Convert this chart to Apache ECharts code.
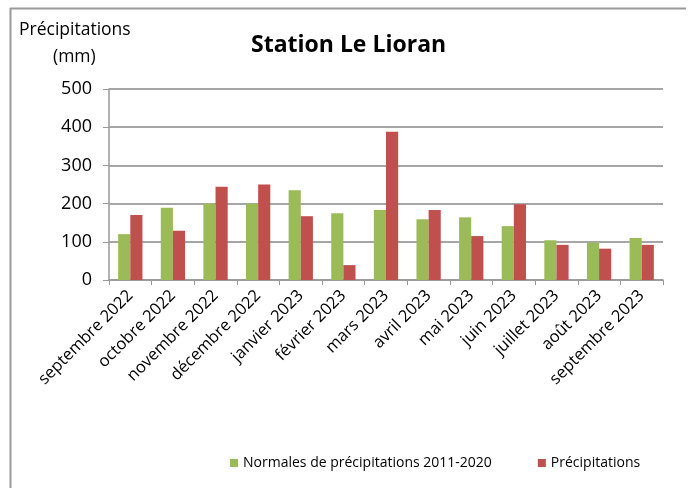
<!DOCTYPE html>
<html><head><meta charset="utf-8">
<script src="https://cdn.jsdelivr.net/npm/echarts@6/dist/echarts.min.js"></script>
<style>html,body{margin:0;padding:0;background:#fff}#c{width:690px;height:488px}</style>
</head><body><div id="c"></div>
<script>
const categories = ['septembre 2022','octobre 2022','novembre 2022','décembre 2022','janvier 2023','février 2023','mars 2023','avril 2023','mai 2023','juin 2023','juillet 2023','août 2023','septembre 2023'];
const normales = [120,189,200,200,235,175,183,159,164,141,104,98,110];
const precipitations = [170,129,244,250,167,39,388,183,115,198,92,82,92];
const yTicks = [0,100,200,300,400,500];
const FONT = '"Open Sans", Lato, sans-serif';
const chart = echarts.init(document.getElementById('c'));
chart.setOption({
  animation:false,
  graphic:[
    {type:'line',shape:{x1:10,y1:8.5,x2:686,y2:8.5},style:{stroke:'#9a9a9a',lineWidth:2}},
    {type:'line',shape:{x1:10.5,y1:8,x2:10.5,y2:488},style:{stroke:'#9a9a9a',lineWidth:2}},
    {type:'text',left:19,top:21,style:{text:'Précipitations',font:'17.5px '+FONT,fill:'#000'}},
    {type:'text',left:53,top:48,style:{text:'(mm)',font:'17.5px '+FONT,fill:'#000'}}
  ],
  title:{text:'Station Le Lioran',left:246,top:29,textStyle:{fontFamily:FONT,fontSize:23,fontWeight:'bold',color:'#000'}},
  legend:{bottom:13,left:225,itemWidth:8,itemHeight:8,itemGap:46,icon:'rect',
    textStyle:{fontFamily:FONT,fontSize:14,color:'#000'},
    data:['Normales de précipitations 2011-2020','Précipitations']},
  grid:{left:109,right:27,top:89,bottom:208},
  xAxis:{type:'category',data:categories,
    axisLine:{lineStyle:{color:'#999',width:1.5}},
    axisTick:{show:true,length:5,lineStyle:{color:'#999'}},
    axisLabel:{rotate:45,margin:13,interval:0,fontFamily:FONT,fontSize:16.5,color:'#000'}},
  yAxis:{type:'value',min:0,max:500,interval:100,
    axisLine:{show:true,lineStyle:{color:'#999',width:1.5}},
    axisTick:{show:true,length:6,lineStyle:{color:'#999'}},
    axisLabel:{margin:17,fontFamily:FONT,fontSize:18,color:'#000',
      formatter:v=>yTicks.includes(v)?String(v):''},
    splitLine:{lineStyle:{color:'#a6a6a6',width:2}}},
  series:[
    {name:'Normales de précipitations 2011-2020',type:'bar',data:normales,itemStyle:{color:'#9BBB59'},barGap:'0%',barCategoryGap:'43%'},
    {name:'Précipitations',type:'bar',data:precipitations,itemStyle:{color:'#C0504D'},barGap:'0%',barCategoryGap:'43%'}
  ]
});
</script></body></html>
